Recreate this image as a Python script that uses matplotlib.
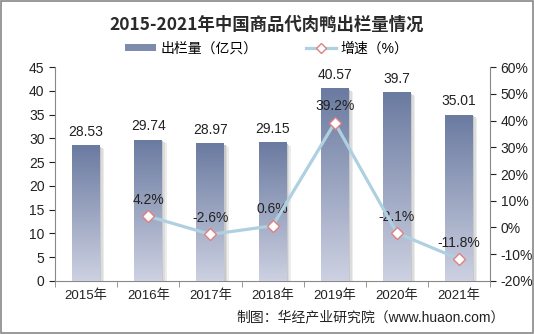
import matplotlib
matplotlib.use("Agg")
import matplotlib.pyplot as plt
import numpy as np
from matplotlib.patches import Rectangle, Patch
from matplotlib.lines import Line2D
from matplotlib.colors import LinearSegmentedColormap

plt.rcParams['font.family'] = ['Liberation Sans', 'Noto Sans CJK SC']

years = ['2015年', '2016年', '2017年', '2018年', '2019年', '2020年', '2021年']
output = [28.53, 29.74, 28.97, 29.15, 40.57, 39.7, 35.01]
growth = [None, 4.2, -2.6, 0.6, 39.2, -2.1, -11.8]

fig = plt.figure(figsize=(5.34, 3.34), dpi=100)
fig.patch.set_facecolor('white')
border = Rectangle((0.002, 0.003), 0.996, 0.994, transform=fig.transFigure,
                   fill=False, edgecolor='#888888', linewidth=1.2)
fig.patches.append(border)

ax = fig.add_axes([0.103, 0.159, 0.815, 0.640])
ax2 = ax.twinx()
x = np.arange(len(years))

bars = ax.bar(x, output, width=0.45, color='#7f8bad', zorder=2)
grad = np.linspace(0, 1, 256).reshape(-1, 1)
cmap = LinearSegmentedColormap.from_list('g', ['#cdd1e2', '#6a7aa0'])
for b in bars:
    bx, by, bw, bh = b.get_x(), b.get_y(), b.get_width(), b.get_height()
    for k, c in enumerate(['#c8c8c8', '#dcdcdc', '#ececec']):
        sh = Rectangle((bx + 0.02 + 0.025 * k, by), bw, bh - 0.3 - 0.2 * k,
                       facecolor=c, edgecolor='none', zorder=1.5 - 0.1 * k)
        ax.add_patch(sh)
    im = ax.imshow(grad, extent=[bx, bx + bw, by, by + bh], origin='lower',
                   cmap=cmap, aspect='auto', zorder=3)
    im.set_clip_path(b)
for xi, v in zip(x, output):
    ax.text(xi, v + 1.3, f'{v:g}', ha='center', va='bottom', fontsize=10,
            color='#222222')

ax.set_xlim(-0.5, len(years) - 0.5)
ax.set_ylim(0, 45)
ax.set_yticks(np.arange(0, 46, 5))
ax.set_xticks(x)
ax.set_xticklabels(years, fontsize=9.5, color='#222222')
ax.tick_params(axis='y', labelsize=10, colors='#222222', length=4, direction='out')
ax.tick_params(axis='x', length=0, pad=6)
ax.set_xticks(np.arange(-0.5, len(years), 1), minor=True)
ax.tick_params(axis='x', which='minor', length=4, color='#888888')
for s in ['top', 'right']:
    ax.spines[s].set_visible(False)
ax.spines['left'].set_color('#888888')
ax.spines['bottom'].set_color('#888888')

gx = [xi for xi, g in zip(x, growth) if g is not None]
gy = [g for g in growth if g is not None]
ax2.plot(gx, gy, color='#aed0e0', linewidth=2.3, zorder=4,
         marker='D', markersize=6, markerfacecolor='white',
         markeredgecolor='#e08080', markeredgewidth=1)
for xi, g in zip(gx, gy):
    ax2.text(xi, g + 3.5, f'{g:.1f}%', ha='center', va='bottom', fontsize=10,
             color='#222222')
ax2.set_ylim(-20, 60)
ax2.set_yticks(np.arange(-20, 61, 10))
ax2.set_yticklabels([f'{t}%' for t in range(-20, 61, 10)])
ax2.tick_params(axis='y', labelsize=10, colors='#222222', length=4)
for s in ['top', 'left', 'bottom']:
    ax2.spines[s].set_visible(False)
ax2.spines['right'].set_color('#888888')
ax.set_zorder(1)
ax2.set_zorder(2)
ax2.patch.set_visible(False)

fig.text(0.5, 0.925, '2015-2021年中国商品代肉鸭出栏量情况', ha='center', va='center',
         fontsize=12.5, fontweight='bold', color='#2a2a2a',
         family=['Noto Sans CJK SC'])

handles = [Patch(facecolor='#7f8bad', edgecolor='none'),
           Line2D([0], [0], color='#aed0e0', linewidth=2.3, marker='D', markersize=5,
                  markerfacecolor='white', markeredgecolor='#e08080')]
fig.legend(handles, ['出栏量（亿只）', '增速（%）'], loc='center', bbox_to_anchor=(0.5, 0.855),
           ncol=2, frameon=False, fontsize=10, handlelength=2.2, handleheight=0.5,
           columnspacing=3.5, handletextpad=0.3)

fig.text(0.945, 0.05, '制图：华经产业研究院（www.huaon.com）', ha='right', va='center',
         fontsize=10, color='#222222')

fig.savefig('out.png', dpi=100)
